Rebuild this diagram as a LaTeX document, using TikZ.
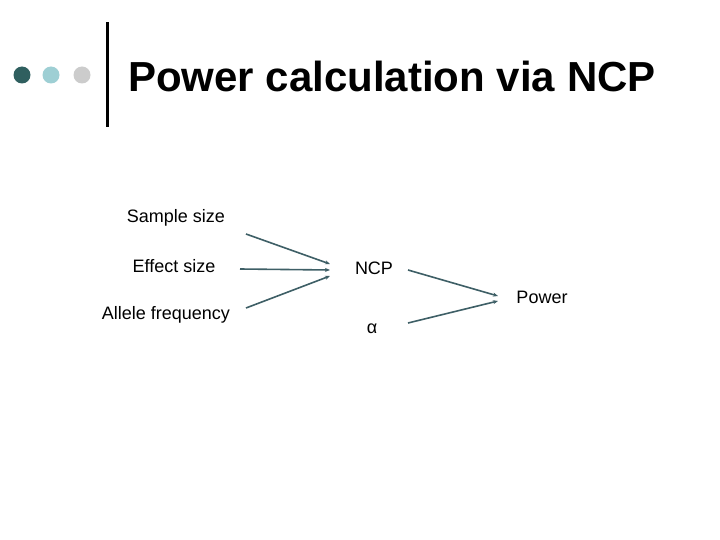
\documentclass[tikz,border=0pt]{standalone}
\usepackage{fontspec}
\setmainfont{Liberation Sans}
\usetikzlibrary{arrows.meta}
\definecolor{dk}{HTML}{2F5F5F}
\definecolor{lt}{HTML}{9ECFD4}
\definecolor{gr}{HTML}{CCCCCC}
\definecolor{ln}{HTML}{3E5F66}
\begin{document}
\begin{tikzpicture}[x=1pt,y=-1pt,
  lbl/.style={font=\fontsize{18}{21}\selectfont,inner sep=0pt},
  arr/.style={draw=ln,line width=1.6pt,-{Stealth[length=5pt,width=4pt]}}]
\useasboundingbox (0,0) rectangle (720,540);
\fill[white] (0,0) rectangle (720,540);
\fill[dk] (22,75) circle (8.5);
\fill[lt] (51,75) circle (8.5);
\fill[gr] (82,75) circle (8.5);
\fill[black] (105.5,22) rectangle (108.5,127);
\node[anchor=west,inner sep=0pt,font=\bfseries\fontsize{42}{48}\selectfont] (title) at (128,76) {Power calculation via NCP};
\node[lbl] (ss) at (176,218) {Sample size};
\node[lbl] (es) at (174,266) {Effect size};
\node[lbl] (af) at (166,315) {Allele frequency};
\node[lbl] (ncp) at (374,268) {NCP};
\node[lbl] (al) at (372,329) {α};
\node[lbl] (pw) at (542,297) {Power};
\coordinate (a1) at (246,234); \coordinate (b1) at (330,264);
\coordinate (a2) at (240,269); \coordinate (b2) at (330,270);
\coordinate (a3) at (246,308); \coordinate (b3) at (330,276);
\coordinate (a4) at (408,270); \coordinate (b4) at (498,296);
\coordinate (a5) at (408,323); \coordinate (b5) at (498,301);
\draw[arr] (a1) -- (b1);
\draw[arr] (a2) -- (b2);
\draw[arr] (a3) -- (b3);
\draw[arr] (a4) -- (b4);
\draw[arr] (a5) -- (b5);
\end{tikzpicture}
\end{document}
